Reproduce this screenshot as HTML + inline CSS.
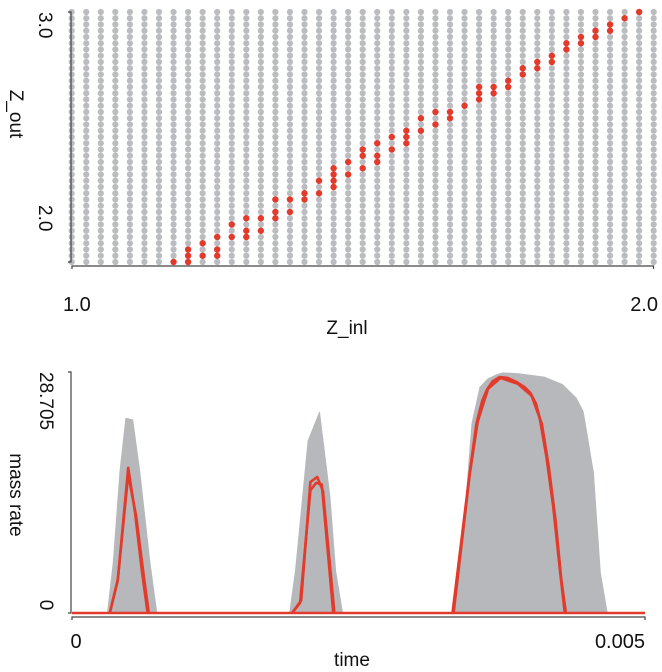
<!DOCTYPE html>
<html><head><meta charset="utf-8"><style>
html,body{margin:0;padding:0;background:#fff;}
svg{display:block;font-family:"Liberation Sans",sans-serif;}
</style></head><body>
<svg id="chart" width="662" height="672" viewBox="0 0 662 672" xmlns="http://www.w3.org/2000/svg">
<g id="topPanel"></g>
<g id="botPanel"></g>
<g fill="#111" font-size="19">
  <text transform="translate(39,12) rotate(90)">3.0</text>
  <text transform="translate(39,205) rotate(90)">2.0</text>
  <text transform="translate(10,114) rotate(90)" text-anchor="middle">Z_out</text>
  <text x="63" y="311" font-size="20">1.0</text>
  <text x="658" y="311" font-size="20" text-anchor="end">2.0</text>
  <text x="347" y="334" text-anchor="middle">Z_inl</text>
  <text transform="translate(40,372) rotate(90)">28.705</text>
  <text transform="translate(40,605) rotate(90)" text-anchor="middle">0</text>
  <text transform="translate(10,495) rotate(90)" text-anchor="middle">mass rate</text>
  <text x="76" y="648" font-size="20" text-anchor="middle">0</text>
  <text x="645" y="648" font-size="20" text-anchor="end">0.005</text>
  <text x="352" y="666" text-anchor="middle">time</text>
</g>
</svg>
<script>
const NS="http://www.w3.org/2000/svg";
// ---- top panel data ----
const zInGrid=[1,1.025,1.05,1.075,1.1,1.125,1.15,1.175,1.2,1.225,1.25,1.275,1.3,1.325,1.35,1.375,1.4,1.425,1.45,1.475,1.5,1.525,1.55,1.575,1.6,1.625,1.65,1.675,1.7,1.725,1.75,1.775,1.8,1.825,1.85,1.875,1.9,1.925,1.95,1.975,2];
const zOutGrid=[1.8,1.83,1.86,1.89,1.92,1.95,1.98,2.01,2.04,2.07,2.1,2.13,2.16,2.19,2.22,2.25,2.28,2.31,2.34,2.37,2.4,2.43,2.46,2.49,2.52,2.55,2.58,2.61,2.64,2.67,2.7,2.73,2.76,2.79,2.82,2.85,2.88,2.91,2.94,2.97,3.0];
const redZin=[1.175,1.2,1.225,1.25,1.275,1.3,1.325,1.35,1.375,1.4,1.425,1.45,1.475,1.5,1.525,1.55,1.575,1.6,1.625,1.65,1.675,1.7,1.725,1.75,1.775,1.8,1.825,1.85,1.875,1.9,1.925,1.95,1.975];
const redZout=[[1.8],[1.8,1.83,1.86],[1.83,1.89],[1.83,1.86,1.92],[1.92,1.98],[1.92,1.95,2.01],[1.95,2.01],[2.01,2.04,2.1],[2.04,2.1],[2.1,2.13],[2.13,2.19],[2.16,2.19,2.22,2.25],[2.22,2.28],[2.25,2.31,2.34],[2.28,2.31,2.37],[2.34,2.4],[2.37,2.4,2.43],[2.43,2.49],[2.46,2.52],[2.49,2.52],[2.55],[2.58,2.61,2.64],[2.61,2.64],[2.64,2.67],[2.7,2.73],[2.73,2.76],[2.76,2.79],[2.82,2.85],[2.85,2.88],[2.88,2.91],[2.91,2.94],[2.97],[3.0]];
// ---- bottom panel data ----
const timeTicks=[0,0.005];
const rateTicks=[0,28.705];
const grayPulse1a=[[0.00031,0],[0.00036,6],[0.00042,17],[0.00047,23.2],[0.00053,23],[0.00059,17],[0.00068,6],[0.00074,0]];
const grayPulse1b=[[0.00033,0],[0.00038,5],[0.00044,13],[0.00049,19],[0.00056,12],[0.00064,4],[0.0007,0]];
const grayPulse2a=[[0.0019,0],[0.00195,5],[0.00206,20.5],[0.00216,23.9],[0.00225,14],[0.0023,5],[0.00236,0]];
const grayPulse2b=[[0.00192,0],[0.002,6],[0.00208,18],[0.00214,20],[0.00221,10],[0.00228,2],[0.00232,0]];
const grayPulse3a=[[0.00332,0],[0.00341,8.7],[0.00349,22.6],[0.00356,26.9],[0.00363,27.9],[0.00371,28.4],[0.00376,28.6],[0.0039,28.5],[0.00412,28.1],[0.00428,27.2],[0.0044,25.6],[0.00446,24],[0.00451,20],[0.00455,16.7],[0.00461,4.8],[0.00467,0]];
const grayPulse3b=[[0.00334,0],[0.00343,9],[0.0035,22],[0.00358,26.5],[0.00375,28.2],[0.0041,27],[0.00425,24],[0.00432,12],[0.00436,0]];
const redBaseline=[[0,0],[0.005,0]];
const redPulse1a=[[0.00033,0],[0.0004,3.9],[0.00049,17.3],[0.00055,12],[0.00061,5],[0.00066,0]];
const redPulse1b=[[0.00033,0],[0.0004,4],[0.00049,16.5],[0.00056,11.5],[0.00063,4],[0.00067,0]];
const redPulse2a=[[0.00192,0],[0.00199,1.2],[0.00208,14.6],[0.00213,15.5],[0.00218,15.3],[0.00228,0]];
const redPulse2b=[[0.00192,0],[0.002,1.5],[0.00208,15.6],[0.00214,16.2],[0.00219,14.5],[0.00229,0]];
const redPulse3a=[[0.00332,0],[0.00347,16.7],[0.00353,22.6],[0.00358,25.3],[0.00362,26.6],[0.00367,27.6],[0.00373,28.1],[0.0038,28.0],[0.00388,27.5],[0.00395,26.9],[0.004,26.2],[0.00405,24.9],[0.00408,23.3],[0.00414,18.6],[0.0042,12.6],[0.00426,4.8],[0.0043,0]];
const redPulse3b=[[0.00333,0],[0.00347,16.5],[0.00354,22.8],[0.00363,26.7],[0.00374,28.0],[0.00389,27.3],[0.00401,25.9],[0.0041,22.5],[0.00416,17.5],[0.00422,11],[0.00427,4],[0.00431,0]];

function mk(parent,tag,attrs){const e=document.createElementNS(NS,tag);for(const k in attrs)e.setAttribute(k,attrs[k]);parent.appendChild(e);return e;}
const xTop=z=>71.7+(z-1)*582;
const yTop=z=>262-(z-1.8)/1.2*250;
const topG=document.getElementById('topPanel');
zInGrid.forEach(zi=>{zOutGrid.forEach(zo=>{
  const c=mk(topG,'circle',{cx:xTop(zi),cy:yTop(zo),r:3.1,fill:'#babcbf'});
  
  
});});
redZin.forEach((zi,i)=>{redZout[i].forEach(zo=>{
  const c=mk(topG,'circle',{cx:xTop(zi),cy:yTop(zo),r:3.2,fill:'#e23b2c'});
  
  
});});
let ax=mk(topG,'path',{d:`M68,12H71V262H68`,stroke:'#444',fill:'none','stroke-width':1.2});


ax=mk(topG,'path',{d:`M72,269V266H653.5V269`,stroke:'#444',fill:'none','stroke-width':1.2});


const xB=t=>72+t/0.005*573;
const yB=v=>613-v/28.705*241;
const botG=document.getElementById('botPanel');
const toPath=s=>s.map((p,i)=>(i?'L':'M')+xB(p[0]).toFixed(1)+','+yB(p[1]).toFixed(1)).join('');
[grayPulse1a,grayPulse1b,grayPulse2a,grayPulse2b,grayPulse3a,grayPulse3b].forEach(s=>{
  const p=mk(botG,'path',{d:toPath(s)+'Z',fill:'#b6b8bb',stroke:'#b6b8bb','stroke-width':1,'stroke-linejoin':'round'});
  
  
});
[redBaseline,redPulse1a,redPulse1b,redPulse2a,redPulse2b,redPulse3a,redPulse3b].forEach(s=>{
  const p=mk(botG,'path',{d:toPath(s),fill:'none',stroke:'#e23b2c','stroke-width':2.6,'stroke-linejoin':'round'});
  
  
});
ax=mk(botG,'path',{d:`M68,${yB(rateTicks[1])}H71V${yB(rateTicks[0])}H68`,stroke:'#444',fill:'none','stroke-width':1.2});


ax=mk(botG,'path',{d:`M${xB(timeTicks[0])},620V617H${xB(timeTicks[1])}V620`,stroke:'#444',fill:'none','stroke-width':1.2});


</script>
</body></html>
